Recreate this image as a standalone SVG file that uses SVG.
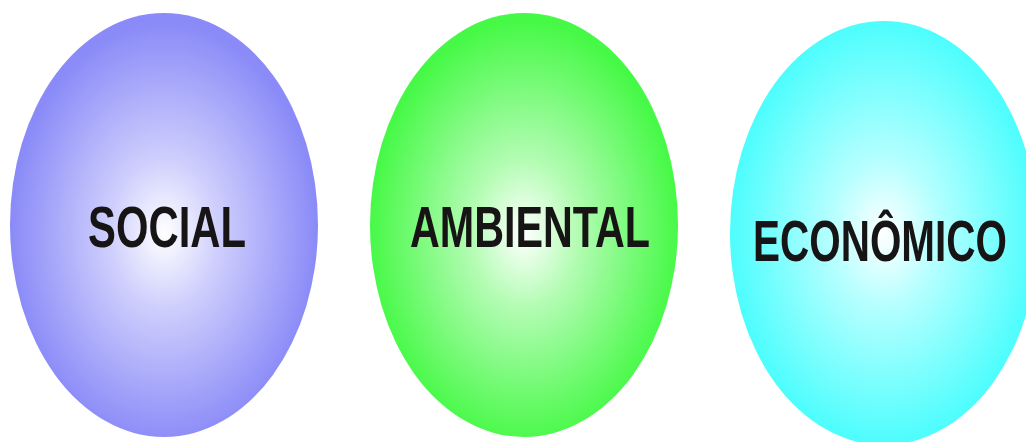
<svg xmlns="http://www.w3.org/2000/svg" width="1026" height="442" viewBox="0 0 1026 442">
<style>
.lbl{font-family:"Liberation Sans",Arial,sans-serif;font-weight:bold;font-size:58px;fill:#161414}
</style>
<defs>
<radialGradient id="gBlue" cx="0.5" cy="0.52" r="0.5">
<stop offset="0" stop-color="#ffffff"/>
<stop offset="0.35" stop-color="#cfcffd"/>
<stop offset="1" stop-color="#8a8af8"/>
</radialGradient>
<radialGradient id="gGreen" cx="0.5" cy="0.52" r="0.5">
<stop offset="0" stop-color="#ffffff"/>
<stop offset="0.35" stop-color="#b3fcb3"/>
<stop offset="1" stop-color="#47f947"/>
</radialGradient>
<radialGradient id="gCyan" cx="0.5" cy="0.5" r="0.5">
<stop offset="0" stop-color="#ffffff"/>
<stop offset="0.35" stop-color="#b5ffff"/>
<stop offset="1" stop-color="#4dfdfd"/>
</radialGradient>
</defs>
<rect width="1026" height="442" fill="#ffffff"/>
<g id="social">
<ellipse cx="164" cy="225" rx="154" ry="212" fill="url(#gBlue)"/>
<text class="lbl" x="88" y="247" textLength="158" lengthAdjust="spacingAndGlyphs">SOCIAL</text>
</g>
<g id="ambiental">
<ellipse cx="524" cy="225" rx="154" ry="212" fill="url(#gGreen)"/>
<text class="lbl" x="410" y="247" textLength="240" lengthAdjust="spacingAndGlyphs">AMBIENTAL</text>
</g>
<g id="economico">
<ellipse cx="884" cy="233" rx="154" ry="212" fill="url(#gCyan)"/>
<text class="lbl" x="753" y="261" textLength="254" lengthAdjust="spacingAndGlyphs">ECONÔMICO</text>
</g>
<g id="connectors"/>
</svg>
